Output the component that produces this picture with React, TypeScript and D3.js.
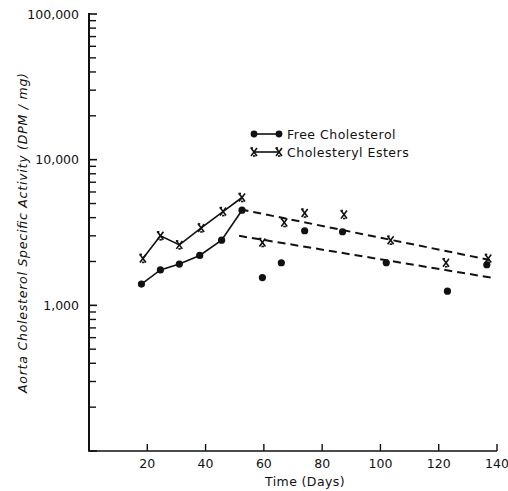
import React from "react";
import * as d3 from "d3";

const freeDays = [18, 24.5, 31, 38, 45.5, 52.5, 59.5, 66, 74, 87, 102, 123, 136.5];
const freeValues = [1400, 1750, 1920, 2200, 2800, 4500, 1550, 1960, 3250, 3200, 1960, 1250, 1900];
const esterDays = [18.5, 24.5, 31, 38.5, 46, 52.5, 59.5, 67, 74, 87.5, 103.5, 122.5, 137];
const esterValues = [2100, 3000, 2600, 3400, 4400, 5500, 2700, 3700, 4300, 4200, 2800, 1960, 2100];
const connectedCount = 6;

const upperTrendDays = [52, 137.5];
const upperTrendValues = [4560, 2050];
const lowerTrendDays = [51.5, 138];
const lowerTrendValues = [3000, 1550];

const xTicks = [20, 40, 60, 80, 100, 120, 140];
const yMajor = [100, 1000, 10000, 100000];
const yLabels = ["", "1,000", "10,000", "100,000"];

const W = 508;
const H = 491;
const FONT = "'DejaVu Sans', 'Liberation Sans', sans-serif";

export default function App() {
  const x = d3.scaleLinear().domain([0, 140]).range([89, 497]);
  const y = d3.scaleLog().domain([100, 100000]).range([451, 14]);

  const minor: number[] = [];
  for (let e = 2; e < 5; e++) {
    for (let m = 2; m <= 9; m++) minor.push(m * Math.pow(10, e));
  }

  const line = d3
    .line<[number, number]>()
    .x((d) => x(d[0]))
    .y((d) => y(d[1]));

  const freePts: [number, number][] = freeDays.map((d, i) => [d, freeValues[i]]);
  const esterPts: [number, number][] = esterDays.map((d, i) => [d, esterValues[i]]);
  const upper: [number, number][] = upperTrendDays.map((d, i) => [d, upperTrendValues[i]]);
  const lower: [number, number][] = lowerTrendDays.map((d, i) => [d, lowerTrendValues[i]]);

  const XMark = ({ cx, cy }: { cx: number; cy: number }) => (
    <g stroke="#111" strokeWidth={1.6} fill="none">
      <line x1={cx - 3} y1={cy - 4} x2={cx + 3} y2={cy + 4} />
      <line x1={cx + 3} y1={cy - 4} x2={cx - 3} y2={cy + 4} />
      <line x1={cx - 3.5} y1={cy - 4} x2={cx - 1} y2={cy - 4} />
      <line x1={cx - 1} y1={cy + 4} x2={cx + 1.5} y2={cy + 4} />
    </g>
  );

  return (
    <svg
      width={W}
      height={H}
      style={{ position: "absolute", left: 0, top: 0, background: "#fff" }}
      fontFamily={FONT}
    >
      <rect x={0} y={0} width={W} height={H} fill="#fff" />
      {/* axes */}
      <line x1={89} y1={y(100000) - 1} x2={89} y2={451} stroke="#111" strokeWidth={2} />
      <line x1={88} y1={451} x2={497} y2={451} stroke="#111" strokeWidth={1.6} />
      {yMajor.map((v) => (
        <line key={"M" + v} x1={89} x2={97} y1={y(v)} y2={y(v)} stroke="#111" strokeWidth={1.6} />
      ))}
      {minor.map((v) => (
        <line key={"m" + v} x1={89} x2={96} y1={y(v)} y2={y(v)} stroke="#111" strokeWidth={1.4} />
      ))}
      {yMajor.map((v, i) =>
        yLabels[i] ? (
          <text key={"yl" + v} x={79} y={y(v)} dy="0.36em" textAnchor="end" fontSize={12.5} fill="#111">
            {yLabels[i]}
          </text>
        ) : null
      )}
      {xTicks.map((t) => (
        <g key={"xt" + t}>
          <line x1={x(t)} x2={x(t)} y1={451} y2={444} stroke="#111" strokeWidth={1.4} />
          <text x={x(t)} y={463} dy="0.36em" textAnchor="middle" fontSize={12.5} fill="#111">
            {t}
          </text>
        </g>
      ))}
      <text x={305} y={481} dy="0.36em" textAnchor="middle" fontSize={12.5} fill="#111" letterSpacing={0.4}>
        Time (Days)
      </text>
      <text
        transform={`translate(27,233) rotate(-90)`}
        textAnchor="middle"
        fontSize={12.5}
        fontStyle="italic"
        fill="#111"
        textLength={320}
        lengthAdjust="spacing"
      >
        Aorta Cholesterol Specific Activity (DPM / mg)
      </text>

      {/* trend lines */}
      <path d={line(upper) || ""} fill="none" stroke="#111" strokeWidth={2} strokeDasharray="8 5" />
      <path d={line(lower) || ""} fill="none" stroke="#111" strokeWidth={2} strokeDasharray="8 5" />

      {/* connected series */}
      <path d={line(freePts.slice(0, connectedCount)) || ""} fill="none" stroke="#111" strokeWidth={1.6} />
      <path d={line(esterPts.slice(0, connectedCount)) || ""} fill="none" stroke="#111" strokeWidth={1.6} />

      {freePts.map((p, i) => (
        <circle key={"f" + i} cx={x(p[0])} cy={y(p[1])} r={3.6} fill="#111" />
      ))}
      {esterPts.map((p, i) => (
        <XMark key={"e" + i} cx={x(p[0])} cy={y(p[1])} />
      ))}

      {/* legend */}
      <line x1={254} x2={279} y1={134} y2={134} stroke="#111" strokeWidth={1.6} />
      <circle cx={254} cy={134} r={3.4} fill="#111" />
      <circle cx={279} cy={134} r={3.4} fill="#111" />
      <text x={287} y={134} dy="0.36em" fontSize={12.5} fill="#111" letterSpacing={0.5}>
        Free Cholesterol
      </text>
      <line x1={254} x2={279} y1={152} y2={152} stroke="#111" strokeWidth={1.6} />
      <XMark cx={254} cy={152} />
      <XMark cx={279} cy={152} />
      <text x={287} y={152} dy="0.36em" fontSize={12.5} fill="#111" letterSpacing={0.5}>
        Cholesteryl Esters
      </text>
    </svg>
  );
}
